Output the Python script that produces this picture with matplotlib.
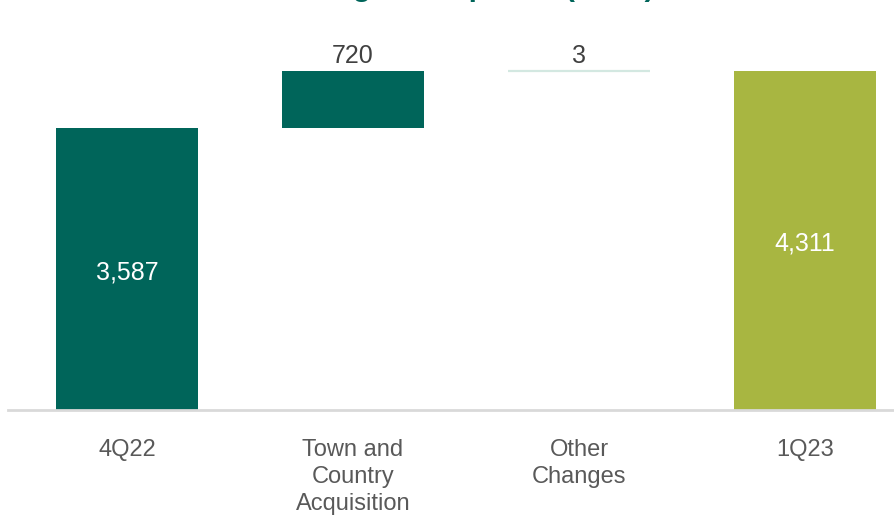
import numpy as np
import matplotlib.pyplot as plt

plt.rcParams['font.family'] = ['Liberation Sans', 'DejaVu Sans']

# deposit bridge, $mm
categories = ['4Q22', 'Town and\nCountry\nAcquisition', 'Other\nChanges', '1Q23']
start_value = 3587
changes = [720, 3]
end_value = 4311
title = 'Change in Deposits ($mm)'

dark_green = '#00655a'
lime = '#a8b641'
pale = '#d3e8e1'

fig = plt.figure(figsize=(8.95, 5.18), dpi=100)
ax = fig.add_axes([8 / 895, 108 / 518, 1 - 8 / 895, 410 / 518])

x = np.arange(len(categories))
w = 0.628

# opening and closing totals
ax.bar(x[0], start_value, w, color=dark_green)
ax.bar(x[3], end_value, w, color=lime)

# floating steps
bottoms = start_value + np.concatenate([[0], np.cumsum(changes)[:-1]])
ax.bar(x[1], changes[0], w, bottom=bottoms[0], color=dark_green)
ax.bar(x[2], changes[1], w, bottom=bottoms[1], color=pale,
       edgecolor=pale, linewidth=1.6)

# labels inside totals
ax.text(x[0], start_value / 2 - 45, f'{start_value:,}', ha='center', va='center',
        color='white', fontsize=18)
ax.text(x[3], end_value / 2 - 40, f'{end_value:,}', ha='center', va='center',
        color='white', fontsize=18)

# labels above steps
for xi, b, c in zip(x[1:3], bottoms, changes):
    ax.text(xi, b + c + 40, f'{c:,}', ha='center', va='bottom',
            color='#404040', fontsize=18)

ax.set_xlim(-0.5265, 3.398)
ax.set_ylim(0, 5215)
ax.set_xticks(x)
ax.set_xticklabels(categories, fontsize=17, color='#595959', linespacing=1.28)
ax.tick_params(axis='x', length=0, pad=21)
ax.set_yticks([])
for s in ['top', 'left', 'right']:
    ax.spines[s].set_visible(False)
ax.spines['bottom'].set_color('#d9d9d9')
ax.spines['bottom'].set_linewidth(2)

# title sits mostly above the canvas edge
fig.text(466 / 895, 1 + 4 / 518, title, ha='center', va='baseline',
         fontsize=21.5, fontweight='bold', color=dark_green)

fig.savefig('out.png', dpi=100)
